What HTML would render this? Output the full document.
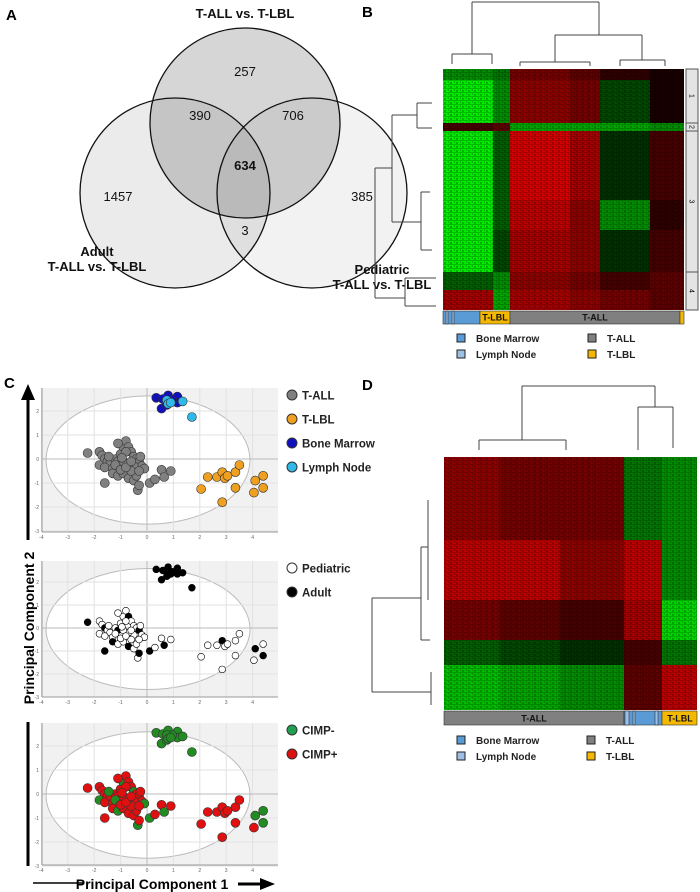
<!DOCTYPE html>
<html><head><meta charset="utf-8"><style>
body{margin:0;background:#fff;width:700px;height:892px;overflow:hidden;font-family:"Liberation Sans",Arial,sans-serif}
svg{display:block}
</style></head><body>
<svg id="fig" width="700" height="892" viewBox="0 0 700 892" xmlns="http://www.w3.org/2000/svg" font-family="Liberation Sans, Arial, sans-serif">
<defs>
<pattern id="tex" width="6" height="4" patternUnits="userSpaceOnUse">
<rect x="0" y="0" width="6" height="1" fill="#000" fill-opacity="0.2"/>
<rect x="0" y="2" width="2" height="2" fill="#000" fill-opacity="0.25"/>
<rect x="4" y="1" width="1" height="2" fill="#000" fill-opacity="0.2"/>
</pattern>
</defs>
<text x="6" y="20" font-size="15" font-weight="bold">A</text>
<text x="362" y="17" font-size="15" font-weight="bold">B</text>
<text x="4" y="388" font-size="15" font-weight="bold">C</text>
<text x="362" y="390" font-size="15" font-weight="bold">D</text>

<g>
<circle cx="245" cy="123" r="95" fill="#000" fill-opacity="0.16"/>
<circle cx="175" cy="193" r="95" fill="#000" fill-opacity="0.08"/>
<circle cx="312" cy="193" r="95" fill="#000" fill-opacity="0.05"/>
<circle cx="245" cy="123" r="95" fill="none" stroke="#111" stroke-width="1.3"/>
<circle cx="175" cy="193" r="95" fill="none" stroke="#111" stroke-width="1.3"/>
<circle cx="312" cy="193" r="95" fill="none" stroke="#111" stroke-width="1.3"/>
<g font-size="13" text-anchor="middle" fill="#111">
<text x="245" y="18" font-weight="bold" font-size="13">T-ALL vs. T-LBL</text>
<text x="245" y="76">257</text>
<text x="200" y="120">390</text>
<text x="293" y="120">706</text>
<text x="245" y="170" font-weight="bold">634</text>
<text x="118" y="201">1457</text>
<text x="245" y="235">3</text>
<text x="362" y="201">385</text>
<text x="97" y="256" font-weight="bold">Adult</text>
<text x="97" y="271" font-weight="bold">T-ALL vs. T-LBL</text>
<text x="382" y="274" font-weight="bold">Pediatric</text>
<text x="382" y="289" font-weight="bold">T-ALL vs. T-LBL</text>
</g></g>

<g id="heatB"></g>
<g id="heatD"></g>
<g id="dendro" fill="none" stroke="#444" stroke-width="1">
<path d="M472 2H599 M472 2V54 M452 54H492 M452 54V64 M492 54V64 M599 2V35 M555 35H642 M555 35V62 M520 62H590 M520 62V66 M590 62V66 M642 35V60 M620 60H665 M620 60V66 M665 60V66"/>
<path d="M375 168V298 M375 168H392 M392 115V222 M392 115H417 M417 103V128 M392 222H421 M421 192V250 M375 298H405 M405 278V306 M417 103H432 M417 128H432 M421 192H430 M421 250H432 M405 278H436 M405 306H436"/>
<path d="M522 386H655 M522 386V440 M479 440H566 M479 440V450 M566 440V450 M655 386V407 M638 407H673 M638 407V450 M673 407V448"/>
<path d="M372 598V692 M372 598H421 M421 547V640 M421 547H428 M428 500V600 M421 640H430 M372 692H431 M431 672V705"/>
</g>

<g id="pca"></g>

<g>
<line x1="28" y1="540" x2="28" y2="398" stroke="#000" stroke-width="3"/>
<polygon points="21,400 35,400 28,384" fill="#000"/>
<line x1="28" y1="722" x2="28" y2="866" stroke="#000" stroke-width="3"/>
</g>
<text transform="translate(34,628) rotate(-90)" text-anchor="middle" font-size="14" font-weight="bold">Principal Component 2</text>
<g>
<line x1="33" y1="883" x2="83" y2="883" stroke="#000" stroke-width="1.5"/>
<line x1="238" y1="884" x2="262" y2="884" stroke="#000" stroke-width="3"/>
<polygon points="260,878 260,890 275,884" fill="#000"/>
</g>
<text x="152" y="889" text-anchor="middle" font-size="14" font-weight="bold">Principal Component 1</text>
</svg>
<script>
const bColEdges=[443,493,510,570,600,650,684];
const bRowEdges=[69,80,123,131,200,230,272,290,310];
const bValues=[
 [-0.6,-0.5,0.5,0.4,0.2,0.1],
 [-1,-0.6,0.6,0.5,-0.3,0.1],
 [0.3,0.4,-0.7,-0.7,-0.7,-0.6],
 [-1,-0.4,0.9,0.7,-0.2,0.3],
 [-1,-0.4,0.8,0.6,-0.6,0.2],
 [-1,-0.3,0.7,0.6,-0.2,0.3],
 [-0.4,-0.6,0.6,0.5,0.3,0.4],
 [0.7,-0.7,0.7,0.6,0.5,0.4]];
const dColEdges=[444,500,560,624,662,697];
const dRowEdges=[457,540,600,640,665,710];
const dValues=[
 [0.6,0.5,0.5,-0.5,-0.6],
 [0.8,0.8,0.6,0.8,-0.6],
 [0.5,0.4,0.3,0.7,-0.9],
 [-0.4,-0.3,-0.2,0.3,-0.5],
 [-0.8,-0.7,-0.6,0.4,0.8]];
const pcX=[-2.25,-1.8,-1.7,-1.6,-1.5,-1.4,-1.8,-1.6,-1.3,-1.2,-1.1,-1.0,-0.9,-0.8,-1.1,-0.7,-0.6,-0.8,-0.5,-0.4,-0.3,-0.2,-0.1,-0.5,-0.7,-0.9,-1.3,-1.1,-0.9,-0.7,-0.5,-0.35,-0.3,-0.4,-0.6,-1.6,0.1,0.3,0.55,0.65,0.9,-1.2,-1.0,-0.8,-0.6,-0.3,-1.45,-0.95,-0.25,
 2.05,2.3,2.65,2.85,2.95,3.05,3.35,3.5,2.85,3.35,4.05,4.1,4.4,4.4,
 0.35,0.6,0.8,1.15,1.15,0.55,0.75,0.95,
 0.75,0.8,0.9,1.35,1.7];
const pcY=[0.25,0.3,0.15,0,-0.1,-0.2,-0.25,-0.35,-0.4,0,-0.1,0.2,0.5,0.75,0.65,0.5,0.3,0.3,0.1,0,-0.1,-0.3,-0.4,-0.3,-0.2,-0.1,-0.6,-0.7,-0.6,-0.8,-0.9,-1.3,-1.1,-0.7,-0.5,-1.0,-1,-0.85,-0.45,-0.75,-0.5,-0.25,-0.45,-0.35,-0.1,-0.5,0.1,0.05,0.1,
 -1.25,-0.75,-0.75,-0.55,-0.8,-0.7,-0.55,-0.25,-1.8,-1.2,-1.4,-0.9,-0.7,-1.2,
 2.55,2.5,2.65,2.6,2.35,2.1,2.25,2.45,
 2.45,2.3,2.35,2.4,1.75];
const typeGroup="AAAAAAAAAAAAAAAAAAAAAAAAAAAAAAAAAAAAAAAAAAAAAAAAALLLLLLLLLLLLLLBBBBBBBBNNNNN".split("");
const ageGroup ="APPAPPPPPPAPPPPAPPPPAPPPPPAPPAPPAPPAAPPAPPPPPPPPPPPPAPPPPPPPAPAAAAAAAAAAAAAA".split("");
const cimpGroup="RRRRRRGRRRRRGRRRRRGRRRGRRRRGRRRGRRRRGRRGRGRRRRGRRRRRRRRRRRRRGGGGGGGGGGGGGGGG".split("");

const NS="http://www.w3.org/2000/svg";
function mk(tag,attrs,parent){const e=document.createElementNS(NS,tag);for(const k in attrs)e.setAttribute(k,attrs[k]);parent.appendChild(e);return e;}
function hcol(v){const a=Math.round(235*Math.min(1,Math.abs(v)));return v>=0?`rgb(${a},0,0)`:`rgb(0,${a},0)`;}
function heat(g,cols,rows,vals){
 for(let r=0;r<vals.length;r++)for(let c=0;c<vals[r].length;c++){
  const e=mk('rect',{x:cols[c],y:rows[r],width:cols[c+1]-cols[c],height:rows[r+1]-rows[r],fill:hcol(vals[r][c])},g);
  
  
 }
}
const gB=document.getElementById('heatB'),gD=document.getElementById('heatD');
heat(gB,bColEdges,bRowEdges,bValues);
heat(gD,dColEdges,dRowEdges,dValues);
mk('rect',{x:443,y:69,width:241,height:241,fill:'url(#tex)'},gB);
mk('rect',{x:444,y:457,width:253,height:253,fill:'url(#tex)'},gD);

const clB=[[69,123,'1'],[123,131,'2'],[131,272,'3'],[272,310,'4']];
clB.forEach(c=>{const r=mk('rect',{x:686,y:c[0],width:12,height:c[1]-c[0],fill:'#e4e4e4',stroke:'#555','stroke-width':1},gB);
 
 const t=mk('text',{x:692,y:(c[0]+c[1])/2,'font-size':7,'text-anchor':'middle',transform:`rotate(90 692 ${(c[0]+c[1])/2})`,dy:'2.5'},gB);t.textContent=c[2];});

function annot(g,segs,y,h,labels){
 segs.forEach(s=>{const r=mk('rect',{x:s[0],y:y,width:s[1]-s[0],height:h,fill:s[2],stroke:'#333','stroke-width':0.6},g);
  });
 labels.forEach(l=>{const t=mk('text',{x:l[0],y:y+h-3.5,'font-size':9,'font-weight':'bold','text-anchor':'middle',fill:'#111'},g);t.textContent=l[1];});
}
annot(gB,[[443,480,'#5b9bd5'],[446,448,'#9fbfe5'],[452,454,'#9fbfe5'],[480,510,'#f5b800'],[510,680,'#808080'],[680,684,'#f5b800']],311,13,[[495,'T-LBL'],[595,'T-ALL']]);
annot(gD,[[444,624,'#808080'],[624,662,'#5b9bd5'],[625,629,'#9fbfe5'],[633,635,'#9fbfe5'],[655,658,'#9fbfe5'],[662,697,'#f5b800']],711,14,[[534,'T-ALL'],[680,'T-LBL']]);

function hlegend(g,x1,x2,y){
 const items=[[x1,y,'#5b9bd5','Bone Marrow'],[x1,y+16,'#9fbfe5','Lymph Node'],[x2,y,'#808080','T-ALL'],[x2,y+16,'#f5b800','T-LBL']];
 items.forEach(it=>{const r=mk('rect',{x:it[0],y:it[1]-7,width:8,height:8,fill:it[2],stroke:'#222','stroke-width':1},g);
  
  const t=mk('text',{x:it[0]+19,y:it[1]+1,'font-size':10,'font-weight':'bold',fill:'#222'},g);t.textContent=it[3];
  });
}
hlegend(gB,457,588,341);hlegend(gD,457,587,743);

const gP=document.getElementById('pca');
const L=42,R=278,x0=147,ux=26.4;
const panels=[
 {top:388,h:144,zero:459,uy:24,groups:typeGroup,r:4.5,stroke:'#333',colors:{A:'#808080',L:'#f0a020',B:'#1010c0',N:'#30b8e8'},
  legend:[['T-ALL','#808080'],['T-LBL','#f0a020'],['Bone Marrow','#1010c0'],['Lymph Node','#30b8e8']]},
 {top:561,h:136,zero:628,uy:23,groups:ageGroup,r:3.4,stroke:'#000',colors:{P:'#ffffff',A:'#000000'},legend:[['Pediatric','#ffffff'],['Adult','#000000']]},
 {top:723,h:142,zero:794,uy:24,groups:cimpGroup,r:4.5,stroke:'#333',colors:{G:'#228b22',R:'#e01010'},legend:[['CIMP-','#20a050'],['CIMP+','#e01010']]}
];
panels.forEach((p,pi)=>{
 const T=p.top,B=T+p.h,cy=p.zero,uy=p.uy;
 const g=mk('g',{},gP);
 
 mk('rect',{x:L,y:T,width:R-L,height:B-T,fill:'#f1f1f1'},g);
 mk('ellipse',{cx:148,cy:cy+1,rx:102,ry:p.h*0.445,fill:'#fff',stroke:'#bbb','stroke-width':1},g);
 for(let u=-4;u<=4;u++){const x=x0+u*ux;mk('line',{x1:x,x2:x,y1:T,y2:B,stroke:u==0?'#bbb':'#e2e2e2','stroke-width':1},g);
  const t=mk('text',{x:x,y:B+7,'font-size':5,'text-anchor':'middle',fill:'#666'},g);t.textContent=u;}
 for(let u=-3;u<=2;u++){const y=cy-u*uy;mk('line',{x1:L,x2:R,y1:y,y2:y,stroke:u==0?'#bbb':'#e2e2e2','stroke-width':1},g);
  const t=mk('text',{x:L-3,y:y+2,'font-size':5,'text-anchor':'end',fill:'#666'},g);t.textContent=u;}
 mk('line',{x1:L,x2:L,y1:T,y2:B,stroke:'#999'},g);mk('line',{x1:L,x2:R,y1:B,y2:B,stroke:'#999'},g);
 for(let i=0;i<pcX.length;i++){
  const c=mk('circle',{cx:x0+pcX[i]*ux,cy:cy-pcY[i]*uy,r:p.r,fill:p.colors[p.groups[i]],stroke:p.stroke,'stroke-width':0.6},g);
  
 }
 p.legend.forEach((l,j)=>{const y=T+7+j*24;
  const c=mk('circle',{cx:292,cy:y,r:5,fill:l[1],stroke:'#333','stroke-width':1},g);
  
  const t=mk('text',{x:302,y:y+4.5,'font-size':11.5,'font-weight':'bold',fill:'#222'},g);t.textContent=l[0];
  });
});
</script>
</body></html>
